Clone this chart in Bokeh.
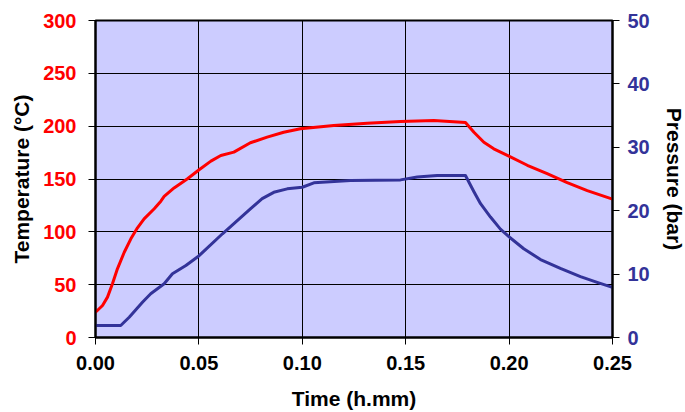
from bokeh.plotting import figure
from bokeh.models import Range1d, LinearAxis, FixedTicker, NumeralTickFormatter
from bokeh.embed import file_html
from bokeh.resources import INLINE

# --- data ---
temp_time = [0.0, 0.0034, 0.0058, 0.0082, 0.0106, 0.0139, 0.0171, 0.0203, 0.0235, 0.0284,
             0.0316, 0.0332, 0.038, 0.0445, 0.0501, 0.0558, 0.0606, 0.0669, 0.0749, 0.083,
             0.091, 0.0991, 0.1152, 0.1314, 0.1475, 0.1636, 0.1789, 0.183, 0.1878, 0.1926,
             0.1999, 0.2088, 0.2184, 0.2281, 0.2378, 0.25]
temp_vals = [23.9, 30.3, 38.2, 50.8, 65.0, 80.7, 93.4, 103.8, 112.3, 121.8,
             129.0, 133.5, 141.5, 150.2, 158.7, 166.9, 172.2, 175.4, 184.3, 189.6,
             194.3, 197.5, 200.6, 202.8, 204.4, 205.4, 203.5, 194.3, 184.8, 178.6,
             171.6, 163.0, 155.0, 146.5, 139.0, 131.0]

pres_time = [0.0, 0.0122, 0.0163, 0.0227, 0.0267, 0.0332, 0.0372, 0.0437, 0.0501, 0.0614,
             0.0749, 0.0806, 0.0862, 0.0927, 0.1, 0.1056, 0.1233, 0.1475, 0.1556, 0.1652,
             0.1789, 0.183, 0.1862, 0.191, 0.1958, 0.1999, 0.2071, 0.2152, 0.2248, 0.2345,
             0.2426, 0.25]
pres_vals = [1.9, 1.9, 3.2, 5.57, 6.9, 8.47, 10.05, 11.36, 12.9, 16.36,
             20.3, 21.9, 22.9, 23.45, 23.7, 24.4, 24.76, 24.86, 25.3, 25.55,
             25.55, 23.0, 21.1, 19.0, 17.1, 15.9, 14.0, 12.3, 10.9, 9.6,
             8.7, 7.9]

x_ticks = [0.0, 0.05, 0.10, 0.15, 0.20, 0.25]
temp_ticks = [0, 50, 100, 150, 200, 250, 300]
pres_ticks = [0, 10, 20, 30, 40, 50]

RED = "#FF0000"
BLUE = "#333399"
FONT = "Liberation Sans"

p = figure(frame_width=517, frame_height=317,
           min_border_left=95, min_border_right=73, min_border_top=20, min_border_bottom=75,
           x_range=Range1d(0, 0.25), y_range=Range1d(0, 300),
           output_backend="svg", toolbar_location=None,
           background_fill_color="#CCCCFF", border_fill_color="white")
p.extra_y_ranges = {"p": Range1d(0, 50)}

p.outline_line_color = "black"
p.outline_line_width = 2

p.line(temp_time, temp_vals, line_color=RED, line_width=3, line_join="round")
p.line(pres_time, pres_vals, line_color=BLUE, line_width=3, line_join="round",
       y_range_name="p")

# x axis
xa = p.xaxis[0]
xa.ticker = FixedTicker(ticks=x_ticks)
xa.formatter = NumeralTickFormatter(format="0.00")
xa.axis_label = "Time (h.mm)"

# left axis
ya = p.yaxis[0]
ya.ticker = FixedTicker(ticks=temp_ticks)
ya.axis_label = "Temperature (°C)"

# right axis
ra = LinearAxis(y_range_name="p", ticker=FixedTicker(ticks=pres_ticks),
                axis_label="Pressure (bar)")
p.add_layout(ra, "right")

for ax in (xa, ya, ra):
    ax.minor_tick_line_color = None
    ax.major_tick_in = 0
    ax.major_tick_out = 7
    ax.major_tick_line_color = "black"
    ax.major_tick_line_width = 1
    ax.axis_line_color = "black"
    ax.axis_line_width = 2
    ax.major_label_text_font = FONT
    ax.major_label_text_font_style = "bold"
    ax.major_label_text_font_size = "20px"
    ax.axis_label_text_font = FONT
    ax.axis_label_text_font_style = "bold"
    ax.axis_label_text_font_size = "21px"
    ax.axis_label_text_color = "black"

xa.major_label_text_color = "black"
ya.major_label_text_color = RED
ra.major_label_text_color = BLUE
xa.major_label_standoff = 11
xa.axis_label_standoff = 14
ya.major_label_standoff = 12
ya.axis_label_standoff = 7
ra.major_label_standoff = 8
ra.axis_label_standoff = 10

for g in (p.xgrid[0], p.ygrid[0]):
    g.grid_line_color = "black"
    g.grid_line_width = 1
p.xgrid[0].ticker = FixedTicker(ticks=x_ticks)
p.ygrid[0].ticker = FixedTicker(ticks=temp_ticks)

open("out.html", "w").write(file_html(p, INLINE))
